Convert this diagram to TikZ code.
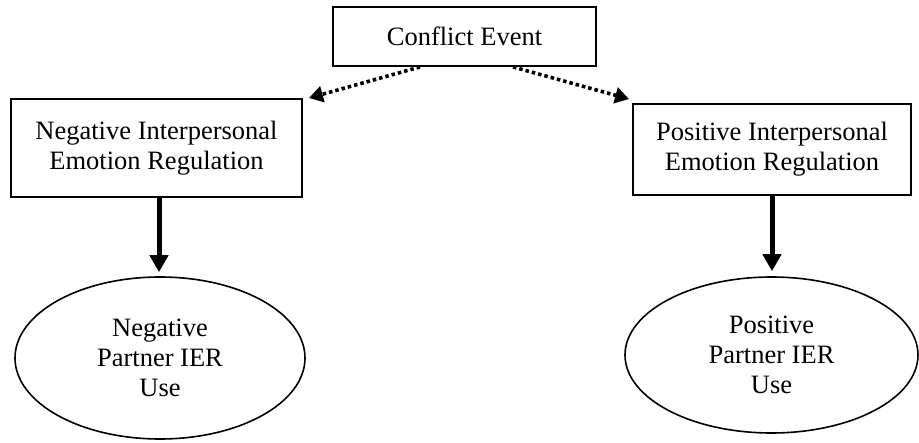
\documentclass[tikz,border=0pt]{standalone}
\usepackage{fontspec}
\setmainfont{Liberation Serif}
\usetikzlibrary{arrows.meta,calc,shapes.geometric}
\begin{document}
\begin{tikzpicture}[x=1pt,y=-1pt,
  txt/.style={font=\fontsize{26.5}{30}\selectfont, align=center, inner sep=0pt},
  boxnode/.style={txt, draw, line width=1.9pt},
  ellnode/.style={txt, draw, ellipse, line width=1.6pt},
  dotarrow/.style={line width=3.6pt, dash pattern=on 3.5pt off 3pt,
    -{Triangle[width=16pt,length=14pt]}},
  solidarrow/.style={line width=5pt, -{Triangle[width=18pt,length=17pt]}}]
\useasboundingbox (0,0) rectangle (919,443);
\node[boxnode, minimum width=263pt, minimum height=59pt] (conf) at (464.5,36.5) {Conflict Event};
\node[boxnode, minimum width=291pt, minimum height=98pt] (lbox) at (156.5,148) {Negative Interpersonal\\Emotion Regulation};
\node[boxnode, minimum width=278pt, minimum height=91pt] (rbox) at (772,149.5) {Positive Interpersonal\\Emotion Regulation};
\node[ellnode, minimum width=290pt, minimum height=162pt] (lell) at (160,358) {Negative\\Partner IER\\Use};
\node[ellnode, minimum width=293pt, minimum height=156pt] (rell) at (771.5,355) {Positive\\Partner IER\\Use};
\coordinate (ltip) at ([xshift=-1pt,yshift=4pt]lell.north);
\coordinate (rtip) at ([yshift=5pt]rell.north);
\draw[dotarrow] ([xshift=-44.5pt]conf.south) -- ([xshift=6pt]lbox.north east);
\draw[dotarrow] ([xshift=48.5pt]conf.south) -- ([xshift=-3pt,yshift=4pt]rbox.north west);
\draw[solidarrow] (ltip |- lbox.south) -- (ltip);
\draw[solidarrow] (rbox.south) -- (rbox.south |- rtip);
\end{tikzpicture}
\end{document}
